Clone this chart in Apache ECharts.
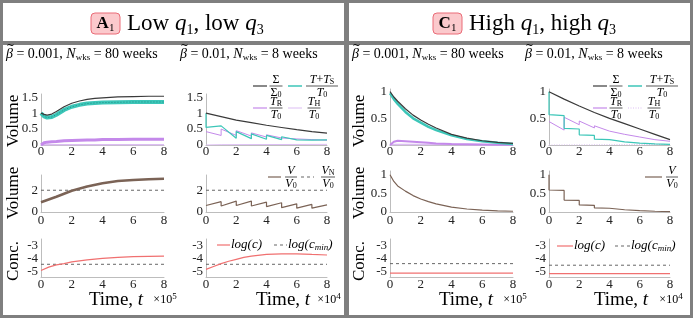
<!DOCTYPE html>
<html><head><meta charset="utf-8">
<script src="https://cdn.jsdelivr.net/npm/echarts@6/dist/echarts.min.js"></script>
<style>html,body{margin:0;padding:0;background:#fff}#c{width:693px;height:318px}</style>
</head><body><div id="c"></div><script>
// ---------- DATA ----------
// A1, beta=0.001, 80 weeks (t x1e5)
const tA1a = [0, 0.2, 0.4, 0.7, 1, 1.5, 2, 2.5, 3, 3.5, 4, 5, 6, 7, 8];
const sigA1a = [1.0, 0.96, 0.94, 0.97, 1.05, 1.2, 1.31, 1.38, 1.43, 1.46, 1.48, 1.51, 1.52, 1.53, 1.53];
const tsA1a = [1.0, 0.9, 0.86, 0.88, 0.95, 1.1, 1.2, 1.26, 1.3, 1.32, 1.33, 1.34, 1.35, 1.35, 1.35];
const trA1a = [0, 0.07, 0.09, 0.1, 0.11, 0.13, 0.14, 0.15, 0.16, 0.16, 0.17, 0.17, 0.18, 0.18, 0.18];
const thA1a = [0, 0.01, 0.01, 0.01, 0.01, 0.01, 0.01, 0.01, 0.01, 0.01, 0.01, 0.01, 0.01, 0.01, 0.01];
const tV = [0, 1, 2, 3, 4, 5, 6, 7, 8];
const vA1a = [0.9, 1.4, 1.95, 2.35, 2.65, 2.85, 2.95, 3.02, 3.05];
const tC = [0, 0.5, 1, 1.5, 2, 3, 4, 5, 6, 7, 8];
const logcA1a = [-4.9, -4.65, -4.48, -4.38, -4.25, -4.1, -3.98, -3.9, -3.85, -3.82, -3.8];
// A1, beta=0.01, 8 weeks (t x1e4)
const tA1b = [0, 1, 2, 3, 4, 5, 6, 7, 8];
const sigA1b = [1.0, 0.89, 0.78, 0.70, 0.62, 0.55, 0.48, 0.42, 0.37];
const tsA1b = [[0, 1.0], [0, 0.55], [1, 0.6], [2, 0.21], [2, 0.42], [3, 0.2], [3, 0.35], [4, 0.18], [4, 0.3], [5, 0.17], [5, 0.26], [6, 0.16], [6, 0.22], [7, 0.15], [7, 0.2], [8, 0.16]];
const trA1b = [[0, 0.42], [1, 0.3], [1, 0.5], [2, 0.3], [2, 0.45], [3, 0.28], [3, 0.38], [4, 0.25], [4, 0.32], [5, 0.22], [5, 0.27], [6, 0.19], [6, 0.23], [7, 0.17], [7, 0.2], [8, 0.15]];
const thA1b = [[0, 0.0], [1, 0.01], [8, 0.02]];
const vA1b = [[0, 0.6], [1, 0.95], [1, 0.55], [2, 1.0], [2, 0.6], [3, 1.0], [3, 0.55], [4, 0.9], [4, 0.5], [5, 0.85], [5, 0.4], [6, 0.75], [6, 0.35], [7, 0.7], [7, 0.35], [8, 0.65]];
const logcA1b = [[0, -4.82], [0.5, -4.6], [1, -4.38], [1.5, -4.2], [2, -4.05], [2.5, -3.9], [3, -3.8], [4, -3.67], [5, -3.64], [6, -3.63], [7, -3.68], [8, -3.72]];
// C1, beta=0.001, 80 weeks
const tC1a = [0, 0.25, 0.5, 1, 1.5, 2, 2.5, 3, 4, 5, 6, 7, 8];
const sigC1a = [1.0, 0.9, 0.82, 0.68, 0.56, 0.47, 0.39, 0.32, 0.2, 0.13, 0.08, 0.05, 0.03];
const tsC1a = [0.97, 0.86, 0.77, 0.62, 0.5, 0.42, 0.34, 0.28, 0.18, 0.11, 0.07, 0.04, 0.02];
const trC1a = [0, 0.06, 0.08, 0.07, 0.06, 0.05, 0.04, 0.03, 0.02, 0.015, 0.01, 0.005, 0.003];
const thC1a = [0, 0.01, 0.01, 0.01, 0.01, 0.01, 0.01, 0.01, 0.01, 0.005, 0.005, 0.003, 0.002];
const vC1a = [1.0, 0.82, 0.7, 0.56, 0.44, 0.35, 0.28, 0.22, 0.13, 0.08, 0.05, 0.03, 0.02];
const logcC1a = [-5.1, -5.1];
const tEnds = [0, 8];
// C1, beta=0.01, 8 weeks
const sigC1b = [1.0, 0.86, 0.73, 0.61, 0.5, 0.4, 0.3, 0.2, 0.1];
const tsC1b = [[0, 1.0], [0, 0.57], [1, 0.55], [1, 0.31], [2, 0.3], [2, 0.19], [3, 0.18], [3, 0.11], [4, 0.1], [4, 0.07], [5, 0.06], [5, 0.04], [6, 0.035], [6, 0.02], [7, 0.02], [7, 0.01], [8, 0.01]];
const trC1b = [[0, 0.44], [1, 0.28], [1, 0.52], [2, 0.38], [2, 0.45], [3, 0.32], [3, 0.36], [4, 0.26], [4, 0.28], [5, 0.2], [5, 0.21], [6, 0.15], [6, 0.155], [7, 0.1], [7, 0.1], [8, 0.07]];
const thC1b = [[0, 0.0], [8, 0.01]];
const vC1b = [[0, 1.0], [0, 0.59], [1, 0.58], [1, 0.32], [2, 0.31], [2, 0.19], [3, 0.18], [3, 0.11], [4, 0.1], [4, 0.07], [5, 0.06], [5, 0.04], [6, 0.035], [6, 0.02], [7, 0.02], [7, 0.01], [8, 0.01]];
const logcC1b = [-5.15, -5.15];
const logcMinA = -4.43, logcMinC1 = -4.38, logcMinC2 = -4.5;
const vN = 2.0;

// ---------- STYLE ----------
const FONT = 'Liberation Serif';
const C_SIG = '#3a3a3a', C_TS = '#3cc6b8', C_TR = '#c489ea', C_TH = '#dcbdf3', C_V = '#7b6356', C_LOG = '#f07070', C_DASH = '#666';
const cols = [[41, 123], [206, 121], [390, 123], [549, 121]];
const rows = {r1A: [94, 51], r1C: [89, 56], r2A: [175, 37], r2C: [171, 41], r3: [239, 38]};
const grids = [], xAxes = [], yAxes = [], series = [];
function addPanel(col, row, ymin, ymax, yvals) {
  const i = grids.length;
  grids.push({left: cols[col][0], width: cols[col][1], top: rows[row][0], height: rows[row][1], containLabel: false});
  xAxes.push({gridIndex: i, type: 'value', min: 0, max: 8, interval: 2,
    axisLine: {lineStyle: {color: '#bdbdbd', width: 1}}, axisTick: {show: false}, splitLine: {show: false},
    axisLabel: {fontFamily: FONT, fontSize: 13, color: '#222', margin: row === 'r3' ? 1 : (row[1] === '1' ? 0 : 2)}});
  yAxes.push({gridIndex: i, type: 'value', min: ymin, max: ymax,
    axisLine: {show: true, lineStyle: {color: '#bdbdbd', width: 1}}, axisTick: {show: false}, splitLine: {show: false},
    axisLabel: {fontFamily: FONT, fontSize: 13, color: '#222', margin: 3, customValues: yvals, formatter: v => String(v)}});
  return i;
}
function zip(t, y) { return t.map((v, k) => [v, y[k]]); }
function line(i, data, color, width, type, z) {
  series.push({type: 'line', xAxisIndex: i, yAxisIndex: i, data, showSymbol: false, silent: true,
    lineStyle: {color, width, type: type || 'solid'}, z: z || 2, animation: false});
}
let g;
g = addPanel(0, 'r1A', 0, 1.6, [0, 0.5, 1, 1.5]);
line(g, zip(tA1a, thA1a), C_TH, 1.5);
line(g, zip(tA1a, trA1a), C_TR, 3);
line(g, zip(tA1a, tsA1a), C_TS, 4);
line(g, zip(tA1a, tsA1a), '#1f8f86', 1, [1, 2]);
line(g, zip(tA1a, sigA1a), C_SIG, 1.2);
g = addPanel(1, 'r1A', 0, 1.6, [0, 0.5, 1, 1.5]);
line(g, thA1b, C_TH, 1);
line(g, trA1b, C_TR, 1);
line(g, tsA1b, C_TS, 1.2);
line(g, zip(tA1b, sigA1b), C_SIG, 1.2);
g = addPanel(2, 'r1C', 0, 1.05, [0, 0.5, 1]);
line(g, zip(tC1a, thC1a), C_TH, 1.5);
line(g, zip(tC1a, trC1a), C_TR, 2);
line(g, zip(tC1a, tsC1a), C_TS, 2.5);
line(g, zip(tC1a, sigC1a), C_SIG, 1.2);
g = addPanel(3, 'r1C', 0, 1.05, [0, 0.5, 1]);
line(g, thC1b, C_TH, 1, [1, 1.5]);
line(g, trC1b, C_TR, 1);
line(g, tsC1b, C_TS, 1.2);
line(g, zip(tA1b, sigC1b), C_SIG, 1.2);
g = addPanel(0, 'r2A', 0, 3.4, [0, 2]);
line(g, zip(tEnds, [vN, vN]), C_DASH, 1, [3, 3]);
line(g, zip(tV, vA1a), C_V, 2.5);
g = addPanel(1, 'r2A', 0, 3.4, [0, 2]);
line(g, zip(tEnds, [vN, vN]), C_DASH, 1, [3, 3]);
line(g, vA1b, C_V, 1.2);
g = addPanel(2, 'r2C', 0, 1.1, [0, 0.5, 1]);
line(g, zip(tC1a, vC1a), C_V, 1.2);
g = addPanel(3, 'r2C', 0, 1.1, [0, 0.5, 1]);
line(g, vC1b, C_V, 1.2);
g = addPanel(0, 'r3', -5.4, -2.5, [-5, -4, -3]);
line(g, zip(tEnds, [logcMinA, logcMinA]), C_DASH, 1, [3, 3]);
line(g, zip(tC, logcA1a), C_LOG, 1.2);
g = addPanel(1, 'r3', -5.4, -2.5, [-5, -4, -3]);
line(g, zip(tEnds, [logcMinA, logcMinA]), C_DASH, 1, [3, 3]);
line(g, logcA1b, C_LOG, 1.2);
g = addPanel(2, 'r3', -5.4, -2.5, [-5, -4, -3]);
line(g, zip(tEnds, [logcMinC1, logcMinC1]), C_DASH, 1, [3, 3]);
line(g, zip(tEnds, logcC1a), C_LOG, 1.2);
g = addPanel(3, 'r3', -5.4, -2.5, [-5, -4, -3]);
line(g, zip(tEnds, [logcMinC2, logcMinC2]), C_DASH, 1, [3, 3]);
line(g, zip(tEnds, logcC1b), C_LOG, 1.2);

// ---------- GRAPHICS ----------
const R = {
  n: {fontFamily: FONT, fontSize: 12, color: '#111', lineHeight: 12},
  i: {fontFamily: FONT, fontSize: 12, fontStyle: 'italic', color: '#111', lineHeight: 12},
  s: {fontFamily: FONT, fontSize: 8, color: '#111', lineHeight: 8, verticalAlign: 'bottom'}
};
const G = [];
function rect(x, y, w, h, fill) { G.push({type: 'rect', shape: {x, y, width: w, height: h}, style: {fill}, silent: true, z: -10}); }
function txt(x, y, text, rich, align, rot, va) {
  G.push({type: 'text', x, y, rotation: rot || 0, silent: true, z: 10,
    style: {text, rich, fontFamily: FONT, align: align || 'left', verticalAlign: va || 'middle', textAlign: align || 'left', textVerticalAlign: va || 'middle'}});
}
function seg(x1, y1, x2, y2, color, width, dash) {
  G.push({type: 'line', silent: true, z: 10, shape: {x1, y1, x2, y2}, style: {stroke: color, lineWidth: width, lineDash: dash || null}});
}
function frac(cx, cy, num, den, w) {
  txt(cx, cy - 0.5, num, R, 'center', 0, 'bottom');
  seg(cx - w / 2, cy, cx + w / 2, cy, '#111', 0.7);
  txt(cx, cy + 1, den, R, 'center', 0, 'top');
}
rect(0, 0, 693, 318, '#7f7f7f');
rect(3, 3, 341, 38, '#fff');
rect(349, 3, 341, 38, '#fff');
rect(3, 45, 341, 270, '#fff');
rect(349, 45, 341, 270, '#fff');
G.push({type: 'rect', silent: true, z: 5, shape: {x: 91, y: 13, width: 29, height: 21, r: 4}, style: {fill: '#fbc9cc', stroke: '#ea6c78', lineWidth: 1}});
G.push({type: 'rect', silent: true, z: 5, shape: {x: 433, y: 13, width: 29, height: 21, r: 4}, style: {fill: '#fbc9cc', stroke: '#ea6c78', lineWidth: 1}});
const RB = {b: {fontFamily: FONT, fontSize: 17, fontWeight: 'bold', color: '#e8505e', lineHeight: 20}, s: {fontFamily: FONT, fontSize: 11, color: '#e8505e', lineHeight: 11, verticalAlign: 'bottom'}};
txt(105.5, 24, '{b|A}{s|1}', RB, 'center');
txt(447.5, 24, '{b|C}{s|1}', RB, 'center');
const RT = {n: {fontFamily: FONT, fontSize: 23, color: '#111', lineHeight: 26}, i: {fontFamily: FONT, fontSize: 23, fontStyle: 'italic', color: '#111', lineHeight: 26}, s: {fontFamily: FONT, fontSize: 14, color: '#111', lineHeight: 14, verticalAlign: 'bottom'}};
txt(127, 24, '{n|Low }{i|q}{s|1}{n|, low }{i|q}{s|3}', RT);
txt(469, 24, '{n|High }{i|q}{s|1}{n|, high }{i|q}{s|3}', RT);
const RS = {n: {fontFamily: FONT, fontSize: 14, color: '#111', lineHeight: 16}, i: {fontFamily: FONT, fontSize: 14, fontStyle: 'italic', color: '#111', lineHeight: 16}, s: {fontFamily: FONT, fontSize: 9, color: '#111', lineHeight: 9, verticalAlign: 'bottom'}};
const sub1 = '{i|β}{n| = 0.001, }{i|N}{s|wks}{n| = 80 weeks}';
const sub2 = '{i|β}{n| = 0.01, }{i|N}{s|wks}{n| = 8 weeks}';
[[6, sub1], [180, sub2], [352, sub1], [525, sub2]].forEach(a => {
  txt(a[0], 54, a[1], RS);
  txt(a[0] + 4.5, 46.5, '{n|~}', {n: {fontFamily: 'DejaVu Sans', fontSize: 10, color: '#111'}}, 'center');
});
const RY = {n: {fontFamily: FONT, fontSize: 17, color: '#111'}};
[[14, 121, 'Volume'], [14, 193, 'Volume'], [14, 261, 'Conc.'], [360, 121, 'Volume'], [360, 193, 'Volume'], [360, 261, 'Conc.']].forEach(a => txt(a[0], a[1], '{n|' + a[2] + '}', RY, 'center', Math.PI / 2));
const RX = {n: {fontFamily: FONT, fontSize: 19, color: '#111'}, i: {fontFamily: FONT, fontSize: 19, fontStyle: 'italic', color: '#111'}};
const RE = {n: {fontFamily: FONT, fontSize: 12, color: '#111', lineHeight: 16}, s: {fontFamily: FONT, fontSize: 9, color: '#111', lineHeight: 9, verticalAlign: 'top'}};
[[116, 300, '5', 165], [283, 300, '4', 329], [466, 300, '5', 515], [621, 300, '4', 671]].forEach(a => {
  txt(a[0], a[1], '{n|Time, }{i|t}', RX, 'center');
  txt(a[3], a[1], '{n|×10}{s|' + a[2] + '}', RE, 'center');
});
function legend1(ox, thDash) {
  seg(ox, 86, ox + 14, 86, C_SIG, 1.2); frac(ox + 23, 86, '{n|Σ}', '{n|Σ}{s|0}', 13);
  seg(ox + 35, 86, ox + 49, 86, C_TS, 1.5); frac(ox + 69, 86, '{i|T}{n|+}{i|T}{s|S}', '{i|T}{s|0}', 32);
  seg(ox, 108, ox + 14, 108, C_TR, 1.2); frac(ox + 23, 108, '{i|T}{s|R}', '{i|T}{s|0}', 13);
  seg(ox + 35, 108, ox + 49, 108, C_TH, 1, thDash ? [1, 1.5] : null); frac(ox + 61, 108, '{i|T}{s|H}', '{i|T}{s|0}', 13);
}
legend1(253, false);
legend1(593, true);
seg(268, 177, 281, 177, C_V, 1.2); frac(291, 177, '{i|V}', '{i|V}{s|0}', 12);
seg(301, 177, 314, 177, C_DASH, 1, [3, 3]); frac(328, 177, '{i|V}{s|N}', '{i|V}{s|0}', 14);
seg(645, 177, 662, 177, C_V, 1.2); frac(672, 177, '{i|V}', '{i|V}{s|0}', 12);
const RL = {i: {fontFamily: FONT, fontSize: 13, fontStyle: 'italic', color: '#111', lineHeight: 15}, s: {fontFamily: FONT, fontSize: 9, fontStyle: 'italic', color: '#111', verticalAlign: 'bottom', lineHeight: 9}};
seg(217, 245, 230, 245, C_LOG, 1.2); txt(231, 245, '{i|log(c)}', RL);
seg(274, 245, 287, 245, C_DASH, 1, [3, 3]); txt(288, 245, '{i|log(c}{s|min}{i|)}', RL);
seg(557, 246, 573, 246, C_LOG, 1.2); txt(574, 246, '{i|log(c)}', RL);
seg(615, 246, 630, 246, C_DASH, 1, [3, 3]); txt(631, 246, '{i|log(c}{s|min}{i|)}', RL);

const chart = echarts.init(document.getElementById('c'), null, {renderer: 'canvas'});
chart.setOption({animation: false, grid: grids, xAxis: xAxes, yAxis: yAxes, series, graphic: {elements: G}});
</script></body></html>
